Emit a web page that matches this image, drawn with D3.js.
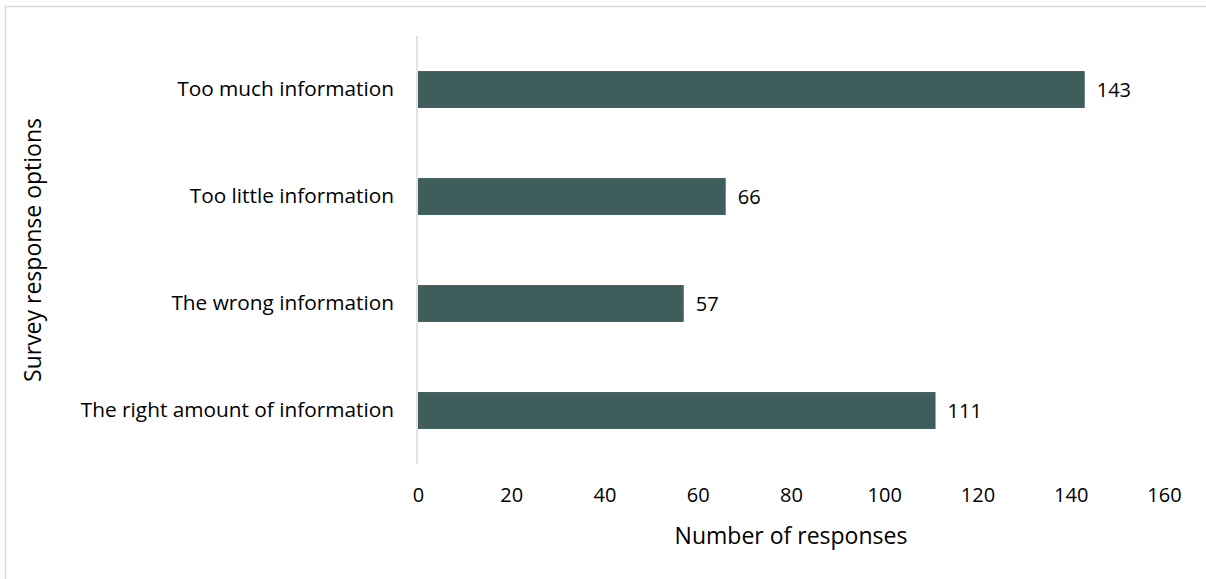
<!DOCTYPE html>
<html>
<head>
<meta charset="utf-8">
<script src="https://cdn.jsdelivr.net/npm/d3@7"></script>
<style>
  html, body { margin: 0; padding: 0; background: #fff; }
  svg { display: block; }
  svg text { font-family: "Open Sans", "Liberation Sans", sans-serif; }
</style>
</head>
<body>
<svg id="chart" width="1206" height="579"></svg>
<script>
const categories = ["Too much information", "Too little information", "The wrong information", "The right amount of information"];
const values = [143, 66, 57, 111];
const xTicks = [0, 20, 40, 60, 80, 100, 120, 140, 160];
const xTitle = "Number of responses";
const yTitle = "Survey response options";

const FONT = '"Open Sans", "Liberation Sans", sans-serif';
const svg = d3.select("#chart");
const W = 1206, H = 579;
const margin = { left: 418, right: W - 1164, top: 36, bottom: H - 464 };

svg.append("rect")
  .attr("x", 5.5).attr("y", 6.5)
  .attr("width", W + 10).attr("height", H + 10)
  .attr("fill", "#fff").attr("stroke", "#d9d9d9").attr("stroke-width", 1.5);

const x = d3.scaleLinear().domain([0, 160]).range([margin.left, W - margin.right]);
const y = d3.scaleBand().domain(categories).range([margin.top, H - margin.bottom]).paddingInner(0.655).paddingOuter(0.3275);

// bars
svg.append("g").selectAll("rect").data(categories).join("rect")
  .attr("x", x(0))
  .attr("y", d => y(d))
  .attr("width", (d, i) => x(values[i]) - x(0))
  .attr("height", y.bandwidth())
  .attr("fill", "#3f5d5b");

// y axis line
svg.append("line")
  .attr("x1", x(0) - 1).attr("x2", x(0) - 1)
  .attr("y1", margin.top).attr("y2", H - margin.bottom)
  .attr("stroke", "#d9d9d9").attr("stroke-width", 1.5);

// y category labels
const yAxis = d3.axisLeft(y).tickSize(0).tickPadding(24);
const gy = svg.append("g").attr("transform", `translate(${x(0)},0)`).call(yAxis)
  .attr("font-family", FONT).attr("font-size", 20.8);
gy.select(".domain").remove();
gy.selectAll("text").attr("fill", "#000");

// x axis labels
const xAxis = d3.axisBottom(x).tickValues(xTicks).tickSize(0).tickPadding(0);
const gx = svg.append("g").attr("transform", `translate(0,${488})`).call(xAxis)
  .attr("font-family", FONT).attr("font-size", 20);
gx.select(".domain").remove();
gx.selectAll("text").attr("fill", "#000");

// value labels
svg.append("g").selectAll("text").data(categories).join("text")
  .attr("x", (d, i) => x(values[i]) + 12)
  .attr("y", d => y(d) + y.bandwidth() / 2)
  .attr("dy", "0.35em")
  .attr("font-size", 20)
  .attr("fill", "#000")
  .text((d, i) => values[i]);

// titles
svg.append("text")
  .attr("x", (x(0) + x(160)) / 2)
  .attr("y", 544)
  .attr("text-anchor", "middle")
  .attr("font-size", 23)
  .attr("fill", "#000")
  .text(xTitle);

svg.append("text")
  .attr("transform", `translate(41,${(margin.top + H - margin.bottom) / 2}) rotate(-90)`)
  .attr("text-anchor", "middle")
  .attr("font-size", 23)
  .attr("fill", "#000")
  .text(yTitle);
</script>
</body>
</html>
